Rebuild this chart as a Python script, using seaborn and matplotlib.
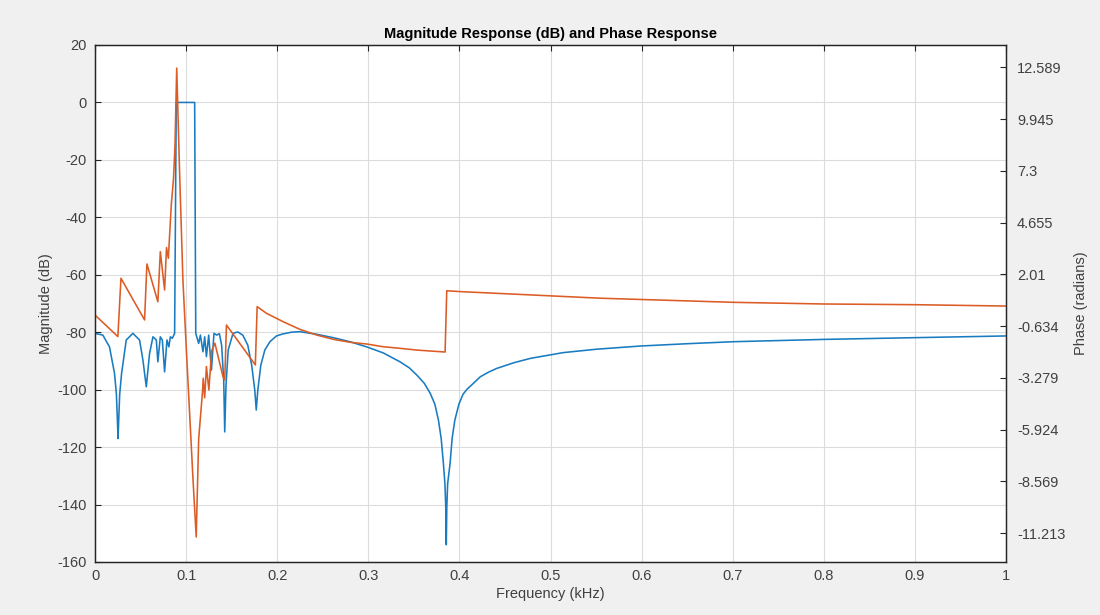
import matplotlib
matplotlib.use("Agg")
import matplotlib.pyplot as plt
import seaborn as sns
import numpy as np

# ---- data ----
mag_freq = [0.0, 0.0086, 0.0159, 0.0214, 0.0235, 0.0245, 0.0253, 0.0261, 0.0271, 0.0292,
            0.0343, 0.0416, 0.0489, 0.0526, 0.0563, 0.0599, 0.0636, 0.0673, 0.0690,
            0.0717, 0.0739, 0.0764, 0.0790, 0.0811, 0.0827, 0.0849, 0.0874, 0.0883,
            0.0892, 0.1094, 0.1100, 0.1106, 0.1138, 0.1157, 0.1185, 0.1204, 0.1223,
            0.1248, 0.1278, 0.1306, 0.1336, 0.1365, 0.1390, 0.1413, 0.1424, 0.1438,
            0.1462, 0.1515, 0.1567, 0.1622, 0.1677, 0.1720, 0.1754, 0.1770, 0.1787,
            0.1820, 0.1864, 0.1920, 0.1992, 0.2062, 0.2155, 0.2249, 0.2432, 0.2615,
            0.2798, 0.2982, 0.3164, 0.3348, 0.3450, 0.3532, 0.3615, 0.3680, 0.3730,
            0.3770, 0.3800, 0.3824, 0.3841, 0.3850, 0.3856, 0.3862, 0.3871, 0.3898,
            0.3920, 0.3950, 0.3995, 0.4040, 0.4085, 0.4130, 0.4180, 0.4230, 0.4320,
            0.4410, 0.4600, 0.4780, 0.5140, 0.5510, 0.5990, 0.6500, 0.7010, 0.8000,
            0.8990, 1.0]
mag_db = [-80.4, -81.0, -85.1, -94.3, -101.6, -110.0, -117.0, -110.0, -101.6, -94.3,
          -82.7, -80.4, -82.7, -89.7, -99.0, -87.4, -81.6, -82.7, -90.3,
          -81.6, -82.7, -93.8, -82.7, -85.1, -81.6, -82.1, -80.4, -40.0,
          0.0, 0.0, -40.0, -80.4, -83.9, -81.0, -86.8, -81.6, -88.5,
          -81.0, -93.2, -80.4, -81.0, -80.5, -84.5, -96.8, -114.7, -98.4,
          -86.2, -80.4, -79.9, -81.0, -84.5, -91.5, -100.2, -107.1, -100.2,
          -91.5, -86.2, -83.3, -81.3, -80.6, -80.0, -79.8, -80.7, -81.9,
          -83.3, -85.1, -87.2, -90.3, -92.4, -94.9, -97.8, -101.3, -105.0,
          -110.6, -117.0, -125.6, -132.7, -140.6, -154.0, -140.6, -132.7, -125.6,
          -117.0, -110.6, -105.0, -101.6, -99.8, -98.5, -97.0, -95.5, -93.9,
          -92.6, -90.6, -89.1, -87.1, -85.9, -84.8, -84.0, -83.3, -82.5,
          -81.9, -81.3]

ph_freq = [0.0, 0.0251, 0.0285, 0.0544, 0.0570, 0.0690, 0.0717, 0.0764, 0.0785, 0.0805,
           0.0838, 0.0862, 0.0878, 0.0897, 0.0929, 0.0965, 0.1003, 0.1039, 0.1075,
           0.1111, 0.1138, 0.1180, 0.1188, 0.1204, 0.1223, 0.1250, 0.1280, 0.1316,
           0.1405, 0.1424, 0.1443, 0.1760, 0.1780, 0.1882, 0.2065, 0.2249, 0.2432,
           0.2615, 0.2798, 0.2982, 0.3164, 0.3348, 0.3532, 0.3843, 0.3861, 0.4041,
           0.4777, 0.5547, 0.7009, 0.8000, 0.8990, 1.0]
ph_rad = [-0.07, -1.17, 1.81, -0.32, 2.54, 0.61, 3.17, 1.21, 3.38, 2.83,
          5.60, 6.90, 8.60, 12.55, 7.14, 1.72, -1.86, -5.13, -8.40,
          -11.41, -6.40, -4.00, -3.30, -4.30, -2.70, -3.90, -1.90, -1.51,
          -3.22, -3.39, -0.58, -2.62, 0.36, 0.02, -0.41, -0.80, -1.09,
          -1.31, -1.46, -1.55, -1.69, -1.77, -1.86, -1.96, 1.17, 1.12,
          0.96, 0.79, 0.58, 0.495, 0.46, 0.39]

x_ticks = [0.0, 0.1, 0.2, 0.3, 0.4, 0.5, 0.6, 0.7, 0.8, 0.9, 1.0]
x_tick_labels = ["0", "0.1", "0.2", "0.3", "0.4", "0.5", "0.6", "0.7", "0.8", "0.9", "1"]
mag_ticks = [20, 0, -20, -40, -60, -80, -100, -120, -140, -160]
ph_ticks = [12.589, 9.945, 7.3, 4.655, 2.01, -0.634, -3.279, -5.924, -8.569, -11.213]
ph_tick_labels = ["12.589", "9.945", "7.3", "4.655", "2.01", "-0.634", "-3.279",
                  "-5.924", "-8.569", "-11.213"]

# ---- style ----
sns.set_style("white")
plt.rcParams['font.family'] = ['Liberation Sans', 'DejaVu Sans']
plt.rcParams['axes.unicode_minus'] = False

BG = "#f0f0f0"
AX_COL = "#262626"
TXT = "#404040"
BLUE = "#1a7cc0"
ORANGE = "#db5c24"

fig = plt.figure(figsize=(11, 6.15), dpi=100, facecolor=BG)
ax = fig.add_axes([95 / 1100, 1 - 562 / 615, (1006 - 95) / 1100, (562 - 45) / 615])
ax.set_facecolor("white")

sns.lineplot(x=mag_freq, y=mag_db, ax=ax, color=BLUE, linewidth=1.15,
             sort=False, estimator=None)
ax.set_xlim(0, 1)
ax.set_ylim(-160, 20)
ax.set_xticks(x_ticks)
ax.set_xticklabels(x_tick_labels)
ax.set_yticks(mag_ticks)
ax.grid(True, color="#dcdcdc", linewidth=0.8)
ax.set_axisbelow(True)
ax.tick_params(direction="in", length=4, width=0.8, colors=AX_COL, labelsize=10.5,
               top=True, right=True, labelcolor=TXT)
ax.tick_params(axis="y", pad=6)
ax.tick_params(axis="x", pad=5)
for s in ax.spines.values():
    s.set_color(AX_COL)
    s.set_linewidth(0.9)
ax.set_xlabel("Frequency (kHz)", fontsize=10.5, color=TXT, labelpad=3)
ax.set_ylabel("Magnitude (dB)", fontsize=10.5, color=TXT, labelpad=3)
ax.set_title("Magnitude Response (dB) and Phase Response", fontsize=10.5,
             fontweight="bold", color="black", pad=5)

ax2 = ax.twinx()
sns.lineplot(x=ph_freq, y=ph_rad, ax=ax2, color=ORANGE, linewidth=1.15,
             sort=False, estimator=None)
ax2.set_ylim(-12.69, 13.73)
ax2.set_yticks(ph_ticks)
ax2.set_yticklabels(ph_tick_labels)
ax2.tick_params(axis="y", direction="in", length=4, width=0.8, colors=AX_COL,
                labelsize=10.5, pad=8, labelcolor=TXT)
ax2.grid(False)
for s in ax2.spines.values():
    s.set_color(AX_COL)
    s.set_linewidth(0.9)
ax2.set_ylabel("Phase (radians)", fontsize=10.5, color=TXT, labelpad=6)

fig.savefig("out.png", dpi=100, facecolor=BG)
